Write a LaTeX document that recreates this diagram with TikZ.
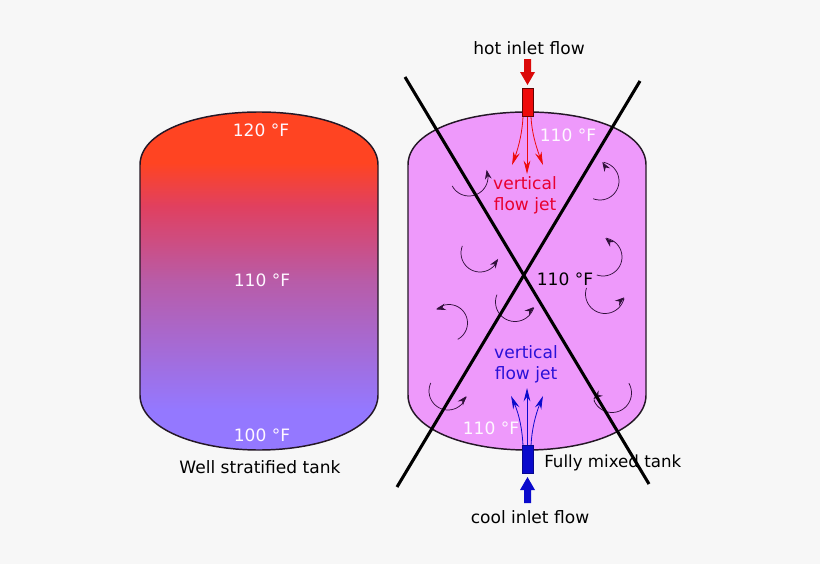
\documentclass[tikz,border=0pt]{standalone}
\usepackage{fontspec}
\setmainfont{DejaVu Sans}
\usetikzlibrary{arrows.meta,bending}
\definecolor{bgc}{HTML}{F7F7F7}
\definecolor{mixc}{HTML}{EE99FB}
\definecolor{swirlc}{HTML}{30103A}
\definecolor{hotc}{HTML}{EE0A0A}
\definecolor{coolc}{HTML}{0A0ACC}
\definecolor{jetred}{HTML}{E80030}
\definecolor{jetblue}{HTML}{2A10D8}
\definecolor{g0}{HTML}{9478FF}
\definecolor{g1}{HTML}{9478FF}
\definecolor{g2}{HTML}{B85CA8}
\definecolor{g3}{HTML}{E04060}
\definecolor{g4}{HTML}{FF4422}
\pgfdeclareverticalshading{tankshade}{100bp}{
 color(0bp)=(g0); color(31bp)=(g1); color(50bp)=(g2); color(61bp)=(g3); color(67.5bp)=(g4); color(100bp)=(g4)}
\tikzset{
 lbl/.style={font=\fontsize{12.8}{14}\selectfont, inner sep=0pt, text=black},
 wlbl/.style={lbl, text=white!92!mixc},
 redlbl/.style={lbl, text=jetred},
 bluelbl/.style={lbl, text=jetblue},
 tankout/.style={draw=black!85!mixc, line width=1.1pt},
 cross/.style={draw=black, line width=2.3pt},
 swirl/.style={draw=swirlc, line width=0.55pt, -{Stealth[length=7pt,width=5pt]}},
 jethot/.style={draw=hotc, line width=0.6pt, -{Stealth[length=10pt,width=5pt,bend]}},
 jetcool/.style={draw=coolc, line width=0.6pt, -{Stealth[length=10pt,width=5pt,bend]}},
}
\newcommand{\swirlarc}[5]{\draw[swirl] plot[domain=#4:#5,samples=25,smooth] ({#1+#3*cos(\x)},{#2+#3*sin(\x)});}
\begin{document}
\begin{tikzpicture}[x=0.75pt,y=-0.75pt]
\useasboundingbox (0,0) rectangle (820,564);
\fill[bgc] (0,0) rectangle (820,564);
% left tank
\path[shading=tankshade] (140,165) .. controls (140,132) and (195,112) .. (259,112) .. controls (323,112) and (378,132) .. (378,165) -- (378,395) .. controls (378,428) and (323,450) .. (259,450) .. controls (195,450) and (140,428) .. (140,395) -- cycle;
\draw[tankout] (140,165) .. controls (140,132) and (195,112) .. (259,112) .. controls (323,112) and (378,132) .. (378,165) -- (378,395) .. controls (378,428) and (323,450) .. (259,450) .. controls (195,450) and (140,428) .. (140,395) -- cycle;
% right tank
\draw[tankout, fill=mixc] (408,165) .. controls (408,132) and (463,112) .. (527,112) .. controls (591,112) and (646,132) .. (646,165) -- (646,395) .. controls (646,428) and (591,450) .. (527,450) .. controls (463,450) and (408,428) .. (408,395) -- cycle;
% labels
\node[wlbl] (t120) at (261,130) {120 °F};
\node[wlbl] (t110) at (262,280) {110 °F};
\node[wlbl] (t100) at (262,435) {100 °F};
\node[lbl] (well) at (260,467) {Well stratified tank};
\node[lbl] (hotl) at (529,48) {hot inlet flow};
\node[lbl] (cooll) at (530,517) {cool inlet flow};
\node[lbl, anchor=west, font=\fontsize{12.5}{14}\selectfont] (mixl) at (544,463) {Fully mixed tank};
\node[wlbl] (r110a) at (568,135) {110 °F};
\node[lbl] (r110b) at (565,279) {110 °F};
\node[wlbl] (r110c) at (491,428) {110 °F};
\node[redlbl] (rv) at (525,183) {vertical};
\node[redlbl] (rf) at (525,206) {flow jet};
\node[bluelbl] (bv) at (526,352) {vertical};
\node[bluelbl] (bf) at (526,375) {flow jet};
% swirls
\swirlarc{469}{177}{19}{152}{-22}
\swirlarc{600}{181}{19}{111}{-83}
\swirlarc{603}{257}{19}{109}{-83}
\swirlarc{480}{253}{19}{202}{18}
\swirlarc{605}{294}{19.5}{198}{10}
\swirlarc{449}{323}{18.5}{62}{-133}
\swirlarc{515}{302}{19.5}{202}{15}
\swirlarc{448}{391}{19}{205}{16}
\swirlarc{612}{393}{19.5}{-30}{162}
% jets
\coordinate (h1) at (523,117); \coordinate (h2) at (527,117); \coordinate (h3) at (531,117);
\coordinate (he1) at (512,165); \coordinate (he2) at (527,174); \coordinate (he3) at (543,165);
\draw[jethot] (h1) .. controls (522,135) and (518,150) .. (he1);
\draw[jethot] (h2) -- (he2);
\draw[jethot] (h3) .. controls (532,135) and (537,150) .. (he3);
\coordinate (c1) at (523,446); \coordinate (c2) at (527,446); \coordinate (c3) at (531,446);
\coordinate (ce1) at (511,396); \coordinate (ce2) at (527,388); \coordinate (ce3) at (543,396);
\draw[jetcool] (c1) .. controls (522,425) and (518,410) .. (ce1);
\draw[jetcool] (c2) -- (ce2);
\draw[jetcool] (c3) .. controls (532,425) and (537,410) .. (ce3);
% inlets
\node[draw=black!60!hotc, fill=hotc, line width=0.7pt, minimum width=8.2pt, minimum height=21.5pt, inner sep=0pt] (hotbox) at (527.5,102.5) {};
\node[draw=black!30!coolc, fill=coolc, line width=0.7pt, minimum width=8.2pt, minimum height=20.5pt, inner sep=0pt] (coolbox) at (527.5,459.5) {};
\fill[hotc!92!black] (524,59) -- (531,59) -- (531,72) -- (535,72) -- (527.5,85) -- (520,72) -- (524,72) -- cycle;
\fill[coolc] (524,503) -- (531,503) -- (531,490) -- (535,490) -- (527.5,477) -- (520,490) -- (524,490) -- cycle;
% crossing lines
\coordinate (x1) at (405,77); \coordinate (x2) at (649,484);
\coordinate (x3) at (640,81); \coordinate (x4) at (397,487);
\draw[cross] (x1) -- (x2);
\draw[cross] (x3) -- (x4);
\end{tikzpicture}
\end{document}
